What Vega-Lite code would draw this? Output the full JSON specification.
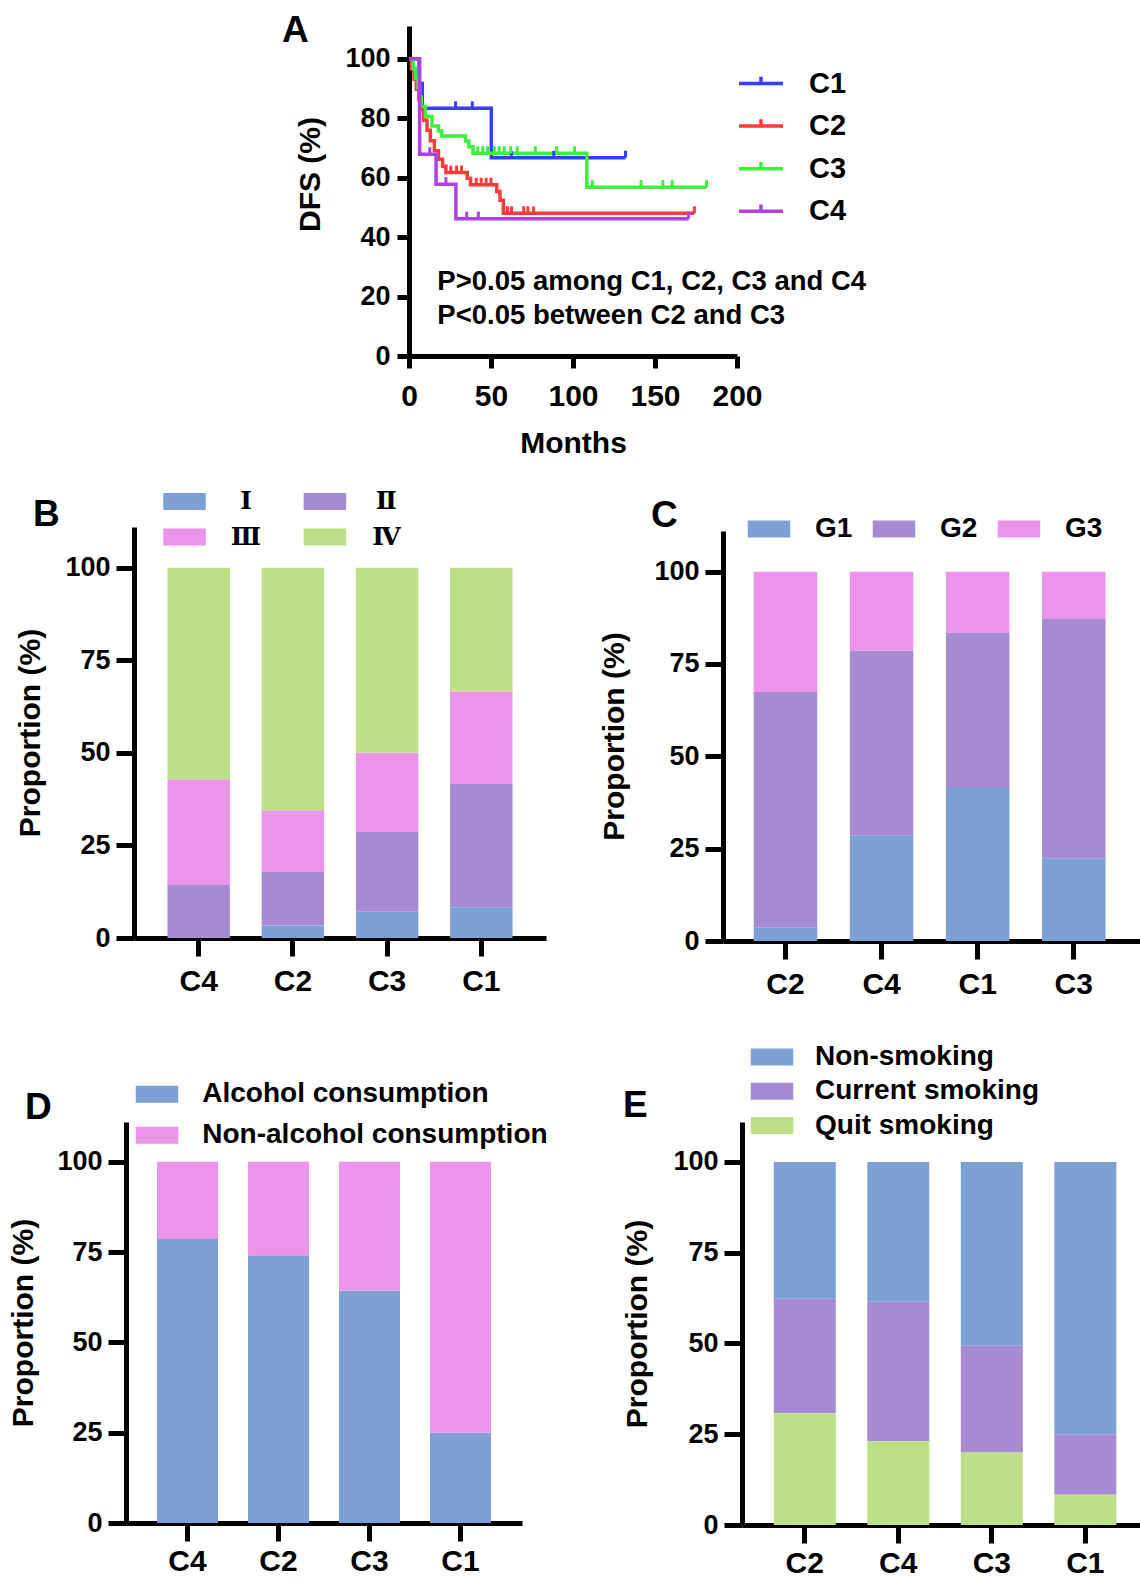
{
  "$schema": "https://vega.github.io/schema/vega-lite/v6.json",
  "background": "white",
  "padding": {"left": 8, "top": 11, "right": 0, "bottom": 0},
  "bounds": "flush",
  "align": "none",
  "spacing": 0,
  "resolve": {"scale": {"color": "independent", "stroke": "independent"}, "legend": {"color": "independent", "stroke": "independent"}},
  "vconcat": [
    {
      "hconcat": [
        {"width": 283, "height": 1, "data": {"values": [{}]}, "mark": {"type": "text", "text": ""}},
        {
          "width": 328,
          "height": 330,
          "title": {"text": "A", "dx": -127, "dy": 27.7},
          "layer": [
            {
              "data": {"name": "km"},
              "mark": {"type": "line", "interpolate": "step-after", "strokeWidth": 3.5},
              "encoding": {
                "x": {"field": "months", "type": "quantitative", "scale": {"domain": [0, 200], "nice": false},
                      "axis": {"values": [0, 50, 100, 150, 200], "title": "Months", "tickSize": 12, "labelPadding": 13, "titlePadding": 17}},
                "y": {"field": "dfs", "type": "quantitative", "scale": {"domain": [0, 111], "nice": false},
                      "axis": {"values": [0, 20, 40, 60, 80, 100], "title": "DFS (%)", "tickSize": 12, "labelPadding": 7, "titlePadding": 19, "titleY": 148}},
                "color": {"field": "cluster", "type": "nominal",
                          "scale": {"domain": ["C1", "C2", "C3", "C4"], "range": ["#3340f5", "#ff3b3b", "#3cf03c", "#b040e0"]},
                          "legend": {"orient": "none", "legendX": 337.5, "legendY": 43, "title": null, "direction": "vertical", "columns": 1,
                                     "symbolType": "M-2.6,0H2.6M0,0V-0.8", "symbolSize": 286, "symbolStrokeWidth": 3.5,
                                     "labelFontSize": 29, "labelOffset": 33.5, "rowPadding": 12.6}}
              }
            },
            {
              "data": {"name": "censor"},
              "mark": {"type": "point", "shape": "M0,0V-1", "size": 196, "strokeWidth": 3, "filled": false, "opacity": 1},
              "encoding": {
                "x": {"field": "months", "type": "quantitative"},
                "y": {"field": "dfs", "type": "quantitative"},
                "stroke": {"field": "cluster", "type": "nominal",
                           "scale": {"domain": ["C1", "C2", "C3", "C4"], "range": ["#3340f5", "#ff3b3b", "#3cf03c", "#b040e0"]},
                           "legend": null}
              }
            },
            {
              "data": {"values": [{}]},
              "mark": {"type": "text", "text": ["P>0.05 among C1, C2, C3 and C4", "P<0.05 between C2 and C3"],
                       "align": "left", "baseline": "alphabetic", "fontSize": 27.5, "fontWeight": "bold", "lineHeight": 33.3, "color": "#000"},
              "encoding": {
                "x": {"datum": 17.3, "type": "quantitative"},
                "y": {"datum": 22.1, "type": "quantitative"}
              }
            }
          ]
        }
      ],
      "spacing": 0,
      "bounds": "flush",
      "align": "none",
      "resolve": {"scale": {"color": "independent", "stroke": "independent"}, "legend": {"color": "independent", "stroke": "independent"}}
    },
    {"width": 1, "height": 501, "data": {"values": [{}]}, "mark": {"type": "text", "text": ""}},
    {
      "hconcat": [
        {"width": 8, "height": 1, "data": {"values": [{}]}, "mark": {"type": "text", "text": ""}},
        {
          "width": 412,
          "height": 411,
          "title": {"text": "B", "dx": -101, "dy": 49.6},
          "data": {"name": "stage"},
          "mark": {"type": "bar"},
          "encoding": {
            "x": {"field": "cluster", "type": "nominal", "sort": ["C4", "C2", "C3", "C1"],
                  "scale": {"paddingInner": 0.337, "paddingOuter": 0.355, "align": 0.5}, "axis": {"title": null, "labelPadding": 10.5}},
            "y": {"field": "proportion", "type": "quantitative", "stack": "zero", "scale": {"domain": [0, 111], "nice": false},
                  "axis": {"values": [0, 25, 50, 75, 100], "title": "Proportion (%)", "titlePadding": 19}},
            "color": {"field": "stage", "type": "nominal",
                      "scale": {"domain": ["Ⅰ", "Ⅱ", "Ⅲ", "Ⅳ"], "range": ["#7ca0d4", "#a68bd2", "#ea95e9", "#bddf88"]},
                      "legend": {"orient": "none", "legendX": 38, "legendY": -38.3, "title": null, "columns": 2, "direction": "horizontal",
                                 "symbolType": "M-2.5,-1H2.5V1H-2.5Z", "symbolSize": 289,
                                 "labelFont": "DejaVu Serif", "labelFontSize": 25, "labelAlign": "center",
                                 "labelOffset": 49, "columnPadding": 41.4, "rowPadding": 9.7}},
            "order": {"field": "stage", "sort": "ascending"}
          }
        },
        {"width": 177, "height": 1, "data": {"values": [{}]}, "mark": {"type": "text", "text": ""}},
        {
          "vconcat": [
            {"width": 418, "height": 3.4, "data": {"values": [{}]}, "mark": {"type": "text", "text": ""}},
            {
              "width": 418,
              "height": 410,
              "title": {"text": "C", "dx": -72, "dy": 7.6},
              "data": {"name": "grade"},
              "mark": {"type": "bar"},
              "encoding": {
                "x": {"field": "cluster", "type": "nominal", "sort": ["C2", "C4", "C1", "C3"],
                      "scale": {"paddingInner": 0.339, "paddingOuter": 0.344, "align": 0.464}, "axis": {"title": null, "labelPadding": 10.5}},
                "y": {"field": "proportion", "type": "quantitative", "stack": "zero", "scale": {"domain": [0, 111], "nice": false},
                      "axis": {"values": [0, 25, 50, 75, 100], "title": "Proportion (%)", "titlePadding": 24}},
                "color": {"field": "grade", "type": "nominal",
                          "scale": {"domain": ["G1", "G2", "G3"], "range": ["#7ca0d4", "#a68bd2", "#ea95e9"]},
                          "legend": {"orient": "none", "legendX": 32, "legendY": -12, "title": null, "columns": 3, "direction": "horizontal",
                                     "symbolType": "M-2.5,-1H2.5V1H-2.5Z", "symbolSize": 289,
                                     "labelOffset": 32, "columnPadding": 19}},
                "order": {"field": "grade", "sort": "ascending"}
              }
            }
          ],
          "spacing": 0,
          "bounds": "flush",
          "align": "none"
        }
      ],
      "spacing": 0,
      "bounds": "flush",
      "align": "none",
      "resolve": {"scale": {"color": "independent"}, "legend": {"color": "independent"}}
    },
    {"width": 1, "height": 594.7, "data": {"values": [{}]}, "mark": {"type": "text", "text": ""}},
    {
      "hconcat": [
        {
          "width": 396,
          "height": 401,
          "title": {"text": "D", "dx": -101, "dy": 51},
          "data": {"name": "alcohol"},
          "mark": {"type": "bar"},
          "encoding": {
            "x": {"field": "cluster", "type": "nominal", "sort": ["C4", "C2", "C3", "C1"],
                  "scale": {"paddingInner": 0.33, "paddingOuter": 0.341, "align": 0.5}, "axis": {"title": null, "labelPadding": 5.5}},
            "y": {"field": "proportion", "type": "quantitative", "stack": "zero", "scale": {"domain": [0, 111], "nice": false},
                  "axis": {"values": [0, 25, 50, 75, 100], "title": "Proportion (%)", "titlePadding": 18}},
            "color": {"field": "alcohol", "type": "nominal",
                      "scale": {"domain": ["Alcohol consumption", "Non-alcohol consumption"], "range": ["#7ca0d4", "#ea95e9"]},
                      "legend": {"orient": "none", "legendX": 17, "legendY": -41.7, "title": null, "columns": 1, "direction": "vertical",
                                 "symbolType": "M-2.5,-1H2.5V1H-2.5Z", "symbolSize": 289,
                                 "labelOffset": 31.3, "rowPadding": 13}},
            "order": {"field": "alcohol", "sort": "ascending"}
          }
        },
        {"width": 220, "height": 1, "data": {"values": [{}]}, "mark": {"type": "text", "text": ""}},
        {
          "width": 400,
          "height": 403,
          "title": {"text": "E", "dx": -119, "dy": 86.4},
          "data": {"name": "smoking"},
          "transform": [
            {"calculate": "indexof(['Quit smoking', 'Current smoking', 'Non-smoking'], datum.smoking)", "as": "stack_rank"}
          ],
          "mark": {"type": "bar"},
          "encoding": {
            "x": {"field": "cluster", "type": "nominal", "sort": ["C2", "C4", "C3", "C1"],
                  "scale": {"paddingInner": 0.337, "paddingOuter": 0.307, "align": 0.553}, "axis": {"title": null, "labelPadding": 5}},
            "y": {"field": "proportion", "type": "quantitative", "stack": "zero", "scale": {"domain": [0, 111], "nice": false},
                  "axis": {"values": [0, 25, 50, 75, 100], "title": "Proportion (%)", "titlePadding": 20}},
            "color": {"field": "smoking", "type": "nominal",
                      "scale": {"domain": ["Non-smoking", "Current smoking", "Quit smoking"], "range": ["#7ca0d4", "#a68bd2", "#bddf88"]},
                      "legend": {"orient": "none", "legendX": 16, "legendY": -79.1, "title": null, "columns": 1, "direction": "vertical",
                                 "symbolType": "M-2.5,-1H2.5V1H-2.5Z", "symbolSize": 289,
                                 "labelOffset": 29, "rowPadding": 6.3}},
            "order": {"field": "stack_rank", "type": "quantitative", "sort": "ascending"}
          }
        }
      ],
      "spacing": 0,
      "bounds": "flush",
      "align": "none",
      "resolve": {"scale": {"color": "independent"}, "legend": {"color": "independent"}}
    }
  ],
  "datasets": {
    "km": [
      {"cluster": "C1", "months": 0, "dfs": 100}, {"cluster": "C1", "months": 6.1, "dfs": 91.7}, {"cluster": "C1", "months": 8.1, "dfs": 83.3},
      {"cluster": "C1", "months": 50.2, "dfs": 66.7}, {"cluster": "C1", "months": 132, "dfs": 66.7},
      {"cluster": "C2", "months": 0, "dfs": 100}, {"cluster": "C2", "months": 1.5, "dfs": 96.6}, {"cluster": "C2", "months": 3, "dfs": 93.1},
      {"cluster": "C2", "months": 4.5, "dfs": 89.7}, {"cluster": "C2", "months": 6, "dfs": 86.2}, {"cluster": "C2", "months": 7.5, "dfs": 82.8},
      {"cluster": "C2", "months": 9, "dfs": 79.3}, {"cluster": "C2", "months": 11, "dfs": 75.9}, {"cluster": "C2", "months": 13, "dfs": 72.4},
      {"cluster": "C2", "months": 15.5, "dfs": 69.0}, {"cluster": "C2", "months": 18, "dfs": 66.2}, {"cluster": "C2", "months": 20.5, "dfs": 63.8},
      {"cluster": "C2", "months": 22.5, "dfs": 61.7}, {"cluster": "C2", "months": 35.5, "dfs": 59.8}, {"cluster": "C2", "months": 37.5, "dfs": 57.6},
      {"cluster": "C2", "months": 53.5, "dfs": 55.3}, {"cluster": "C2", "months": 55.5, "dfs": 52.4}, {"cluster": "C2", "months": 57.5, "dfs": 48.0},
      {"cluster": "C2", "months": 174, "dfs": 48.0},
      {"cluster": "C3", "months": 0, "dfs": 100}, {"cluster": "C3", "months": 2.5, "dfs": 96.8}, {"cluster": "C3", "months": 4, "dfs": 93.5},
      {"cluster": "C3", "months": 5.5, "dfs": 90.3}, {"cluster": "C3", "months": 6.5, "dfs": 87.1}, {"cluster": "C3", "months": 7.5, "dfs": 83.9},
      {"cluster": "C3", "months": 10, "dfs": 80.6}, {"cluster": "C3", "months": 14, "dfs": 77.4}, {"cluster": "C3", "months": 18, "dfs": 75.7},
      {"cluster": "C3", "months": 20, "dfs": 74.0}, {"cluster": "C3", "months": 34.5, "dfs": 72.3}, {"cluster": "C3", "months": 36.5, "dfs": 70.4},
      {"cluster": "C3", "months": 39, "dfs": 68.2}, {"cluster": "C3", "months": 108.4, "dfs": 56.8}, {"cluster": "C3", "months": 181.4, "dfs": 56.8},
      {"cluster": "C4", "months": 0, "dfs": 100}, {"cluster": "C4", "months": 6.5, "dfs": 67.9}, {"cluster": "C4", "months": 16.5, "dfs": 57.8},
      {"cluster": "C4", "months": 28.6, "dfs": 46.2}, {"cluster": "C4", "months": 170.5, "dfs": 46.2}
    ],
    "censor": [
      {"cluster": "C1", "months": 28.4, "dfs": 83.3}, {"cluster": "C1", "months": 38.6, "dfs": 83.3}, {"cluster": "C1", "months": 62.4, "dfs": 66.7},
      {"cluster": "C1", "months": 88.3, "dfs": 66.7}, {"cluster": "C1", "months": 132, "dfs": 66.7},
      {"cluster": "C2", "months": 25.5, "dfs": 61.7}, {"cluster": "C2", "months": 29, "dfs": 61.7}, {"cluster": "C2", "months": 32, "dfs": 61.7},
      {"cluster": "C2", "months": 41, "dfs": 57.6}, {"cluster": "C2", "months": 44, "dfs": 57.6}, {"cluster": "C2", "months": 47, "dfs": 57.6},
      {"cluster": "C2", "months": 50, "dfs": 57.6}, {"cluster": "C2", "months": 60, "dfs": 48.0}, {"cluster": "C2", "months": 62.5, "dfs": 48.0},
      {"cluster": "C2", "months": 70, "dfs": 48.0}, {"cluster": "C2", "months": 72.5, "dfs": 48.0}, {"cluster": "C2", "months": 76, "dfs": 48.0},
      {"cluster": "C2", "months": 174, "dfs": 48.0},
      {"cluster": "C3", "months": 42, "dfs": 68.2}, {"cluster": "C3", "months": 45, "dfs": 68.2}, {"cluster": "C3", "months": 48, "dfs": 68.2},
      {"cluster": "C3", "months": 52, "dfs": 68.2}, {"cluster": "C3", "months": 55, "dfs": 68.2}, {"cluster": "C3", "months": 58, "dfs": 68.2},
      {"cluster": "C3", "months": 62, "dfs": 68.2}, {"cluster": "C3", "months": 66, "dfs": 68.2}, {"cluster": "C3", "months": 77, "dfs": 68.2},
      {"cluster": "C3", "months": 90, "dfs": 68.2}, {"cluster": "C3", "months": 101, "dfs": 68.2}, {"cluster": "C3", "months": 111.8, "dfs": 56.8},
      {"cluster": "C3", "months": 141.5, "dfs": 56.8}, {"cluster": "C3", "months": 154.8, "dfs": 56.8}, {"cluster": "C3", "months": 160.5, "dfs": 56.8},
      {"cluster": "C3", "months": 181.4, "dfs": 56.8},
      {"cluster": "C4", "months": 12.7, "dfs": 67.9}, {"cluster": "C4", "months": 22.5, "dfs": 57.8}, {"cluster": "C4", "months": 35.2, "dfs": 46.2},
      {"cluster": "C4", "months": 42.3, "dfs": 46.2}, {"cluster": "C4", "months": 170.5, "dfs": 46.2}
    ],
    "stage": [
      {"cluster": "C4", "stage": "Ⅰ", "proportion": 0}, {"cluster": "C4", "stage": "Ⅱ", "proportion": 14.3},
      {"cluster": "C4", "stage": "Ⅲ", "proportion": 28.6}, {"cluster": "C4", "stage": "Ⅳ", "proportion": 57.1},
      {"cluster": "C2", "stage": "Ⅰ", "proportion": 3.4}, {"cluster": "C2", "stage": "Ⅱ", "proportion": 14.4},
      {"cluster": "C2", "stage": "Ⅲ", "proportion": 16.7}, {"cluster": "C2", "stage": "Ⅳ", "proportion": 65.5},
      {"cluster": "C3", "stage": "Ⅰ", "proportion": 7.1}, {"cluster": "C3", "stage": "Ⅱ", "proportion": 21.5},
      {"cluster": "C3", "stage": "Ⅲ", "proportion": 21.4}, {"cluster": "C3", "stage": "Ⅳ", "proportion": 50.0},
      {"cluster": "C1", "stage": "Ⅰ", "proportion": 8.3}, {"cluster": "C1", "stage": "Ⅱ", "proportion": 33.3},
      {"cluster": "C1", "stage": "Ⅲ", "proportion": 25.0}, {"cluster": "C1", "stage": "Ⅳ", "proportion": 33.4}
    ],
    "grade": [
      {"cluster": "C2", "grade": "G1", "proportion": 3.7}, {"cluster": "C2", "grade": "G2", "proportion": 63.7}, {"cluster": "C2", "grade": "G3", "proportion": 32.6},
      {"cluster": "C4", "grade": "G1", "proportion": 28.6}, {"cluster": "C4", "grade": "G2", "proportion": 50.0}, {"cluster": "C4", "grade": "G3", "proportion": 21.4},
      {"cluster": "C1", "grade": "G1", "proportion": 41.7}, {"cluster": "C1", "grade": "G2", "proportion": 41.7}, {"cluster": "C1", "grade": "G3", "proportion": 16.6},
      {"cluster": "C3", "grade": "G1", "proportion": 22.4}, {"cluster": "C3", "grade": "G2", "proportion": 64.8}, {"cluster": "C3", "grade": "G3", "proportion": 12.8}
    ],
    "alcohol": [
      {"cluster": "C4", "alcohol": "Alcohol consumption", "proportion": 78.6}, {"cluster": "C4", "alcohol": "Non-alcohol consumption", "proportion": 21.4},
      {"cluster": "C2", "alcohol": "Alcohol consumption", "proportion": 74.1}, {"cluster": "C2", "alcohol": "Non-alcohol consumption", "proportion": 25.9},
      {"cluster": "C3", "alcohol": "Alcohol consumption", "proportion": 64.3}, {"cluster": "C3", "alcohol": "Non-alcohol consumption", "proportion": 35.7},
      {"cluster": "C1", "alcohol": "Alcohol consumption", "proportion": 25.0}, {"cluster": "C1", "alcohol": "Non-alcohol consumption", "proportion": 75.0}
    ],
    "smoking": [
      {"cluster": "C2", "smoking": "Non-smoking", "proportion": 37.7}, {"cluster": "C2", "smoking": "Current smoking", "proportion": 31.5}, {"cluster": "C2", "smoking": "Quit smoking", "proportion": 30.8},
      {"cluster": "C4", "smoking": "Non-smoking", "proportion": 38.5}, {"cluster": "C4", "smoking": "Current smoking", "proportion": 38.4}, {"cluster": "C4", "smoking": "Quit smoking", "proportion": 23.1},
      {"cluster": "C3", "smoking": "Non-smoking", "proportion": 50.5}, {"cluster": "C3", "smoking": "Current smoking", "proportion": 29.5}, {"cluster": "C3", "smoking": "Quit smoking", "proportion": 20.0},
      {"cluster": "C1", "smoking": "Non-smoking", "proportion": 75.0}, {"cluster": "C1", "smoking": "Current smoking", "proportion": 16.7}, {"cluster": "C1", "smoking": "Quit smoking", "proportion": 8.3}
    ]
  },
  "config": {
    "view": {"stroke": null},
    "font": "Liberation Sans",
    "axis": {
      "domainColor": "#000", "domainWidth": 5, "tickColor": "#000", "tickWidth": 5, "tickSize": 18,
      "labelFont": "Liberation Sans", "labelFontWeight": "bold", "labelColor": "#000", "labelFontSize": 27,
      "titleFont": "Liberation Sans", "titleFontWeight": "bold", "titleColor": "#000", "titleFontSize": 30,
      "grid": false, "labelOverlap": false, "labelFlush": false
    },
    "axisX": {"labelFontSize": 30, "labelAngle": 0, "labelPadding": 7.5},
    "axisY": {"labelPadding": 6, "titlePadding": 15},
    "legend": {"labelFont": "Liberation Sans", "labelFontWeight": "bold", "labelFontSize": 28, "labelColor": "#000", "padding": 0, "labelLimit": 0},
    "title": {"font": "Liberation Sans", "fontWeight": "bold", "fontSize": 37, "color": "#000", "anchor": "start", "frame": "group", "offset": 0}
  }
}
